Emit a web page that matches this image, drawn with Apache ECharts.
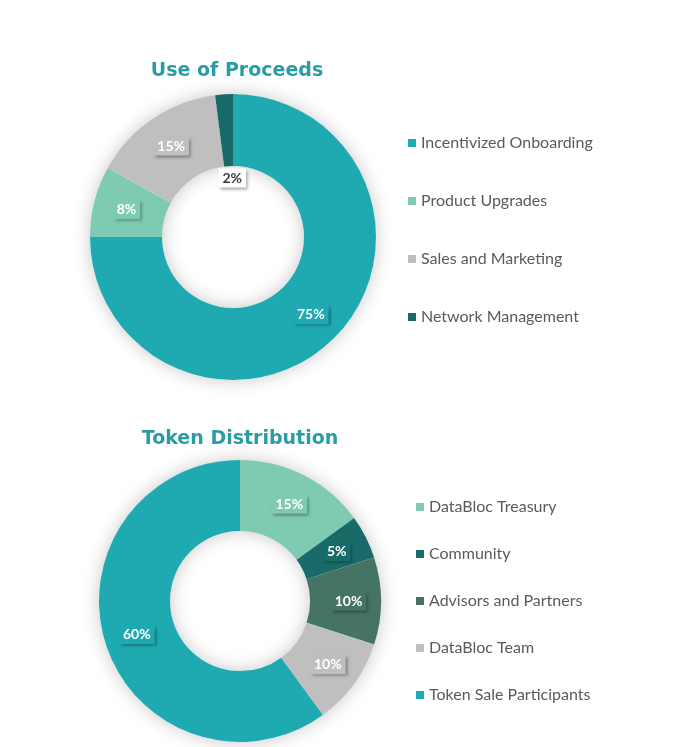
<!DOCTYPE html>
<html>
<head>
<meta charset="utf-8">
<script src="https://cdn.jsdelivr.net/npm/echarts@6/dist/echarts.min.js"></script>
<style>
html,body{margin:0;padding:0;background:#fff;}
#c{width:680px;height:747px;}
</style>
</head>
<body>
<div id="c"></div>
<script>
// ---- data ----
const proceedsTitle = 'Use of Proceeds';
const proceedsNames = ['Incentivized Onboarding', 'Product Upgrades', 'Sales and Marketing', 'Network Management'];
const proceedsValues = [75, 8, 15, 2];
const proceedsColors = ['#1faab1', '#7fcab2', '#bfbfbf', '#176a68'];

const tokenTitle = 'Token Distribution';
const tokenNames = ['DataBloc Treasury', 'Community', 'Advisors and Partners', 'DataBloc Team', 'Token Sale Participants'];
const tokenValues = [15, 5, 10, 10, 60];
const tokenColors = ['#7fcab2', '#186b68', '#457464', '#bfbfbf', '#1faab1'];

// ---- layout ----
const C1 = [233, 237], R1 = [71, 143];
const C2 = [240, 601], R2 = [70, 141];

const chart = echarts.init(document.getElementById('c'));

function boxLabel(bg, txt) {
  return {
    show: true,
    position: 'inside',
    formatter: '{c}%',
    color: txt || '#fff',
    fontFamily: 'Lato',
    fontWeight: 'bold',
    fontSize: 14,
    backgroundColor: bg,
    padding: [3, 4, 2, 4],
    shadowBlur: 3,
    shadowOffsetX: 2,
    shadowOffsetY: 2,
    shadowColor: 'rgba(0,0,0,0.35)'
  };
}

function makeData(names, values, colors) {
  return names.map((n, i) => ({
    name: n,
    value: values[i],
    itemStyle: { color: colors[i] },
    label: boxLabel(colors[i])
  }));
}

const pData = makeData(proceedsNames, proceedsValues, proceedsColors);
// small slice: label moved into the hole with a leader line
pData[3].label = Object.assign(boxLabel('#ffffff', '#404040'), { position: 'outside' });
pData[3].labelLine = { show: true, lineStyle: { color: 'rgba(255,255,255,0.75)', width: 1 } };

const tData = makeData(tokenNames, tokenValues, tokenColors);

function shadowPie(center, radius) {
  return {
    type: 'pie', center: center, radius: radius, silent: true, z: 1,
    label: { show: false }, labelLine: { show: false },
    emphasis: { disabled: true },
    data: [{ value: 1, name: '', itemStyle: { color: '#ffffff', shadowBlur: 18, shadowColor: 'rgba(0,0,0,0.22)' } }]
  };
}

const legendText = { fontFamily: 'Lato', fontSize: 16, color: '#5a5a5a', lineHeight: 16 };
const titleText = { fontFamily: 'DejaVu Sans', fontWeight: 'bold', fontSize: 19, color: '#2a9da4' };

chart.setOption({
  backgroundColor: '#ffffff',
  animation: false,
  title: [
    { text: proceedsTitle, left: 232, top: 57, textAlign: 'center', textStyle: titleText },
    { text: tokenTitle, left: 235, top: 425, textAlign: 'center', textStyle: titleText }
  ],
  legend: [
    { data: proceedsNames, orient: 'vertical', left: 408, top: 135, padding: 0, itemWidth: 8, itemHeight: 8,
      itemGap: 42, icon: 'rect', textStyle: legendText, selectedMode: false },
    { data: tokenNames, orient: 'vertical', left: 416, top: 499, padding: 0, itemWidth: 8, itemHeight: 8,
      itemGap: 31, icon: 'rect', textStyle: legendText, selectedMode: false }
  ],
  series: [
    shadowPie(C1, R1),
    {
      type: 'pie', center: C1, radius: R1, startAngle: 90, clockwise: true, z: 2,
      avoidLabelOverlap: false,
      emphasis: { disabled: true },
      labelLine: { show: false },
      data: pData,
      labelLayout: function (p) {
        if (p.dataIndex !== 3) return {};
        const total = proceedsValues.reduce((a, b) => a + b, 0);
        let prior = 0;
        for (let i = 0; i < 3; i++) prior += proceedsValues[i];
        const th = (prior + proceedsValues[3] / 2) / total * Math.PI * 2;
        const rm = (R1[0] + R1[1]) / 2;
        const ax = C1[0] + rm * Math.sin(th), ay = C1[1] - rm * Math.cos(th);
        const lx = ax + 6, ly = C1[1] - R1[0] + 12;
        return {
          x: lx, y: ly, align: 'center', verticalAlign: 'middle',
          labelLinePoints: [[ax, ay], [lx - 1, ly - 10], [lx - 1, ly - 10]]
        };
      }
    },
    shadowPie(C2, R2),
    {
      type: 'pie', center: C2, radius: R2, startAngle: 90, clockwise: true, z: 2,
      avoidLabelOverlap: false,
      emphasis: { disabled: true },
      labelLine: { show: false },
      data: tData
    }
  ]
});
</script>
</body>
</html>
